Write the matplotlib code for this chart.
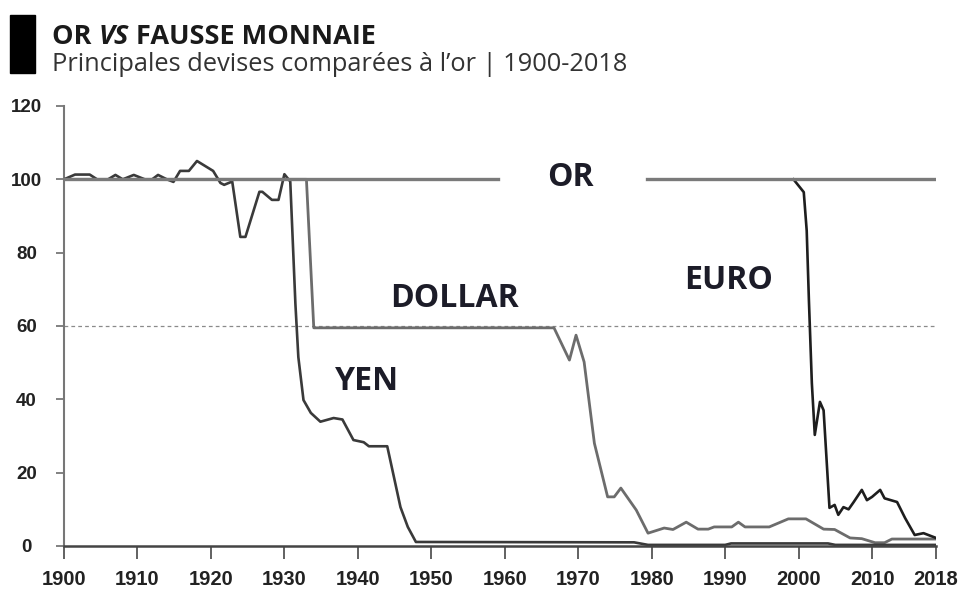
import matplotlib
matplotlib.use("Agg")
import matplotlib.pyplot as plt
import numpy as np

# données (base 100 = or)
gold_years = [1900, 1959.1, 1959.1, 1979.3, 2018.7]
gold_vals = [100, 100, np.nan, 100, 100]

yen_years = [1900, 1901.5, 1903.5, 1904.5, 1906, 1907, 1908, 1909.5, 1911, 1912, 1912.8,
             1914, 1914.9, 1915.8, 1917, 1918.1, 1920.3, 1921.3, 1921.8, 1922.9, 1924,
             1924.7, 1926.6, 1927, 1928.3, 1929.2, 1930, 1930.8, 1931.5, 1931.9, 1932.6,
             1933.6, 1934.9, 1936.7, 1937.9, 1939.4, 1940.8, 1941.5, 1944, 1944.5, 1945.8,
             1946.8, 1947.9, 1977.6, 1979.5, 1990, 1990.8, 2004, 2005, 2018.7]
yen_vals = [100, 101.3, 101.3, 100, 100, 101.2, 100, 101.2, 100, 100, 101.2,
            100, 99.3, 102.3, 102.3, 105, 102.3, 99, 98.5, 99.4, 84.3,
            84.3, 96.6, 96.6, 94.4, 94.4, 101.4, 99.4, 66, 51.5, 39.8,
            36.3, 33.9, 34.9, 34.5, 28.9, 28.3, 27.2, 27.2, 22.6, 10.6,
            5.2, 1.1, 1.0, 0.3, 0.3, 0.7, 0.7, 0.3, 0.3]

dollar_years = [1900, 1933, 1934, 1966.7, 1968.8, 1969.7, 1970.8, 1972.2, 1974, 1974.9,
                1975.8, 1977.9, 1979.5, 1981.7, 1982.9, 1984.7, 1986.3, 1987.7, 1988.5,
                1990.9, 1991.8, 1992.7, 1996, 1998.6, 2001, 2003.4, 2004.9, 2007, 2008.6,
                2010.4, 2011.7, 2012.7, 2018.7]
dollar_vals = [100, 100, 59.5, 59.5, 50.7, 57.5, 50.2, 28, 13.4, 13.4,
               15.8, 9.8, 3.5, 4.9, 4.5, 6.5, 4.6, 4.6, 5.2,
               5.2, 6.5, 5.2, 5.2, 7.4, 7.4, 4.6, 4.5, 2.2, 2.0,
               0.9, 0.9, 1.9, 1.9]

euro_years = [1999.3, 2000.7, 2001.1, 2001.4, 2001.8, 2002.2, 2002.9, 2003.4, 2004.2,
              2004.9, 2005.4, 2006.1, 2006.8, 2007.5, 2008.6, 2009.3, 2010, 2011.1,
              2011.7, 2013.4, 2014.5, 2015.8, 2017, 2018.7]
euro_vals = [100, 96.5, 86, 67, 44.4, 30.3, 39.3, 37, 10.4,
             11.2, 8.5, 10.6, 10, 12, 15.3, 12.5, 13.4, 15.3,
             13, 12, 7.6, 3, 3.5, 2.2]

x_ticks = [1900, 1910, 1920, 1930, 1940, 1950, 1960, 1970, 1980, 1990, 2000, 2010, 2018.7]
x_labels = ["1900", "1910", "1920", "1930", "1940", "1950", "1960", "1970", "1980",
            "1990", "2000", "2010", "2018"]
y_ticks = [0, 20, 40, 60, 80, 100, 120]

fig = plt.figure(figsize=(9.63, 5.92), dpi=100)
ax = fig.add_axes([64 / 963, 1 - 546 / 592, 872 / 963, 440 / 592])

ax.axhline(60, color="#8a8a8a", lw=0.9, ls=(0, (3, 2.5)), zorder=1)
ax.plot(dollar_years, dollar_vals, color="#6c6c6c", lw=2.0, zorder=2)
ax.plot(yen_years, yen_vals, color="#3a3a3a", lw=1.9, zorder=3)
ax.plot(euro_years, euro_vals, color="#1e1e1e", lw=1.9, zorder=3)
ax.plot(gold_years, gold_vals, color="#7a7a7a", lw=2.4, zorder=4)

ax.set_xlim(1900, 2018.7)
ax.set_ylim(0, 120)
ax.set_xticks(x_ticks)
ax.set_xticklabels(x_labels)
ax.set_yticks(y_ticks)

for s in ["top", "right"]:
    ax.spines[s].set_visible(False)
ax.spines["left"].set_color("#777777")
ax.spines["left"].set_linewidth(1.5)
ax.spines["bottom"].set_color("#444444")
ax.spines["bottom"].set_linewidth(1.8)
ax.spines["bottom"].set_zorder(5)

ax.tick_params(axis="x", direction="out", length=9, width=1.3, color="#555555", pad=8)
ax.tick_params(axis="y", direction="out", length=6, width=1.3, color="#777777", pad=21)
for lab in ax.get_xticklabels():
    lab.set_family("Liberation Sans")
    lab.set_fontweight("bold")
    lab.set_fontsize(14.5)
    lab.set_color("#222222")
for lab in ax.get_yticklabels():
    lab.set_family("Liberation Sans")
    lab.set_fontweight("bold")
    lab.set_fontsize(13.5)
    lab.set_color("#222222")
    lab.set_horizontalalignment("center")

lbl = dict(family="Open Sans", fontweight="bold", fontsize=23, color="#1c1c28",
           ha="center", va="center", zorder=6)
ax.text(1968.9, 100.4, "OR", **lbl)
ax.text(1953.2, 67.6, "DOLLAR", **lbl)
ax.text(1941.2, 45, "YEN", **lbl)
ax.text(1990.4, 72.3, "EURO", **lbl)

# bandeau du titre
fig.patches.append(plt.Rectangle((10 / 963, 1 - 73 / 592), 25 / 963, 58 / 592,
                                 transform=fig.transFigure, color="black"))
fig.canvas.draw()
r = fig.canvas.get_renderer()
x0 = 52 / 963
yb = 1 - 44 / 592
parts = [("OR ", "normal"), ("VS", "italic"), (" FAUSSE MONNAIE", "normal")]
for txt, st in parts:
    t = fig.text(x0, yb, txt, family="Open Sans", fontweight="bold", style=st,
                 fontsize=19.5, color="#1a1a1a", va="baseline", ha="left")
    bb = t.get_window_extent(renderer=r)
    x0 += bb.width / fig.bbox.width
fig.text(52 / 963, 1 - 71 / 592, "Principales devises comparées à l\u2019or | 1900-2018",
         family="Open Sans", fontsize=18.3, color="#333333", va="baseline", ha="left")

fig.savefig("out.png", dpi=100)
